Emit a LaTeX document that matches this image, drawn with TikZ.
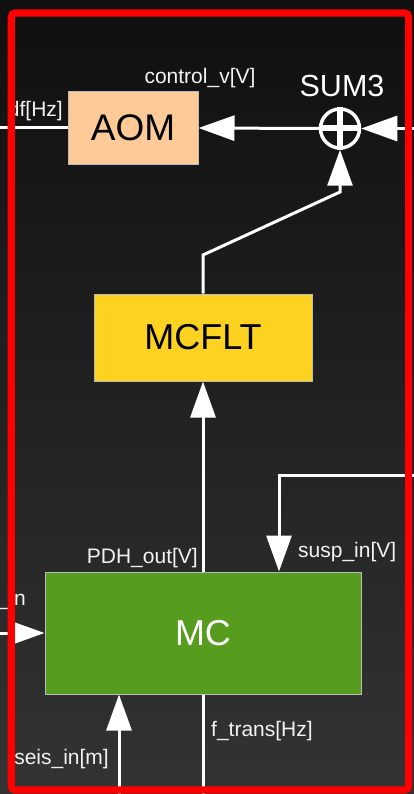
\documentclass[tikz,border=0pt]{standalone}
\usepackage{fontspec}
\setmainfont{Liberation Sans}
\usetikzlibrary{arrows.meta}
\definecolor{aomc}{HTML}{FECB98}
\definecolor{fltc}{HTML}{FED220}
\definecolor{mcc}{HTML}{569D1F}
\definecolor{bordc}{HTML}{BBBBBB}
\definecolor{labc}{HTML}{F2F2F2}
\tikzset{
  blk/.style={draw=bordc, line width=1pt, inner sep=0pt, font=\fontsize{36}{40}\selectfont},
  wire/.style={draw=white, line width=3pt},
  arr/.style={wire, -{Triangle[length=36pt,width=25pt]}},
  lab/.style={text=labc, inner sep=0pt, font=\fontsize{21}{24}\selectfont},
}
\begin{document}
\begin{tikzpicture}[x=1pt,y=-1pt]
\useasboundingbox (0,0) rectangle (414,794);
\clip (0,0) rectangle (414,794);
\shade[top color=black!94, bottom color=black!80] (0,0) rectangle (414,794);
% blocks
\node[blk, fill=aomc, minimum width=130pt, minimum height=73pt, font=\fontsize{37}{40}\selectfont] (aom) at (133,128) {AOM};
\node[blk, fill=fltc, minimum width=218pt, minimum height=87pt] (mcflt) at (203,337.5) {MCFLT};
\node[blk, fill=mcc, minimum width=316pt, minimum height=122pt, text=white] (mc) at (203,633) {MC};
\node[circle, draw=white, line width=3.5pt, minimum size=39pt, inner sep=0pt] (sum) at (340,128.5) {};
\draw[white, line width=6pt] (sum.west) -- (sum.east) (sum.north) -- (sum.south);
% free ends and bends
\coordinate (dfout) at (0,128);
\coordinate (sumin) at (414,128.5);
\coordinate (k1) at (203,255);
\coordinate (k2) at (340,192);
\coordinate (suspin) at (414,475);
\coordinate (s2) at (279,475);
\coordinate (lin) at (0,633);
\coordinate (seis) at (119,794);
\coordinate (ft) at (203,794);
% connectors
\draw[wire] (aom.west) -- (dfout);
\draw[arr] (sum.west) -- (aom.east);
\draw[arr] (sumin) -- (sum.east);
\draw[arr] (mcflt.north) -- (k1) -- (k2) -- (sum.south);
\draw[arr] (mc.north) -- (mcflt.south);
\draw[arr] (suspin) -- (s2) -- (s2 |- mc.north);
\draw[arr] (lin) -- (mc.west);
\draw[arr] (seis) -- (seis |- mc.south);
\draw[wire] (mc.south) -- (ft);
% labels
\node[lab, anchor=center] (lcv) at (200,78) {control\_v[V]};
\node[lab, anchor=center, font=\fontsize{30.5}{34}\selectfont, text=white] (lsum) at (342,86) {SUM3};
\node[lab, anchor=east] (ldf) at (63,111) {df[Hz]};
\node[lab, anchor=east] (lpdh) at (198,558) {PDH\_out[V]};
\node[lab, anchor=west] (lsusp) at (298,552) {susp\_in[V]};
\node[lab, anchor=east] (lin2) at (26,600) {\_in};
\node[lab, anchor=east] (lseis) at (109,759) {seis\_in[m]};
\node[lab, anchor=west] (lft) at (211,731) {f\_trans[Hz]};
% frame
\draw[red, line width=7.2pt, rounded corners=4pt] (11.3,13) rectangle (408.6,790);
\end{tikzpicture}
\end{document}
